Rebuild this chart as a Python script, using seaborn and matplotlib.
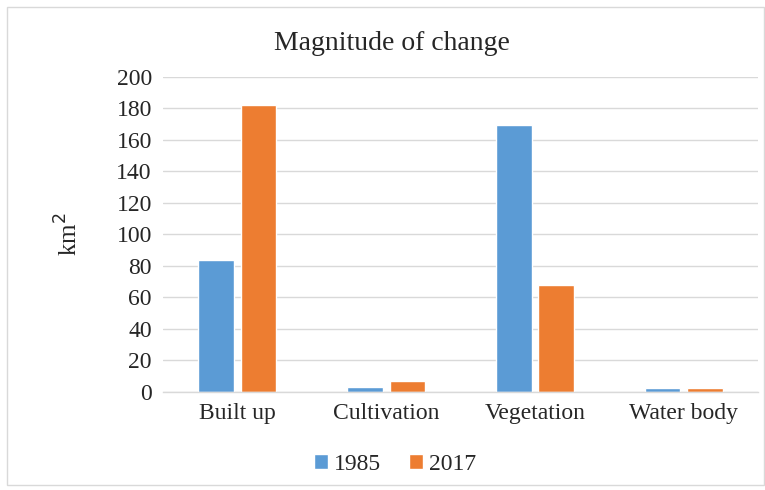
import matplotlib
matplotlib.use("Agg")
import matplotlib.pyplot as plt
import seaborn as sns
import pandas as pd
from matplotlib.patches import Rectangle

categories = ["Built up", "Cultivation", "Vegetation", "Water body"]
years = ["1985", "2017"]
values_1985 = [84, 3.4, 169.5, 2.5]
values_2017 = [182, 6.8, 68, 2.5]
yticks = [0, 20, 40, 60, 80, 100, 120, 140, 160, 180, 200]

df = pd.DataFrame({
    "category": categories * 2,
    "year": [years[0]] * 4 + [years[1]] * 4,
    "value": values_1985 + values_2017,
})

sns.set_theme(style="white")
plt.rcParams["font.family"] = ["Liberation Serif", "DejaVu Serif"]

fig = plt.figure(figsize=(7.65, 4.9), dpi=100)
ax = fig.add_axes([0.213, 0.2, 0.778, 0.643])

sns.barplot(data=df, x="category", y="value", hue="year",
            palette=["#5B9BD5", "#ED7D31"], width=0.57, gap=0.16,
            ax=ax, legend=True, saturation=1)

ax.set_ylim(0, 200)
ax.set_yticks(yticks)
ax.set_yticklabels([str(t) for t in yticks], fontsize=17)
ax.tick_params(axis="x", labelsize=17, length=0, pad=8)
ax.tick_params(axis="y", length=0, pad=8)
ax.yaxis.grid(True, color="#D9D9D9", linewidth=1)
ax.set_axisbelow(True)
for s in ["left", "right", "top"]:
    ax.spines[s].set_visible(False)
ax.spines["bottom"].set_color("#D9D9D9")
ax.spines["bottom"].set_linewidth(1)
ax.set_xlabel("")
ax.set_ylabel("km$^2$", fontsize=18, labelpad=24)
ax.set_xlim(-0.5, 3.5)

fig.text(0.512, 0.912, "Magnitude of change", ha="center", va="center", fontsize=20)

leg = ax.legend(loc="center", bbox_to_anchor=(0.39, -0.23), ncol=2, frameon=False,
                fontsize=17, handlelength=0.6, handleheight=0.6, columnspacing=1.2,
                handletextpad=0.25)

fig.patches.append(Rectangle((0.009, 0.01), 0.99, 0.976, transform=fig.transFigure,
                             fill=False, edgecolor="#D9D9D9", linewidth=1))

fig.savefig("out.png", dpi=100)
